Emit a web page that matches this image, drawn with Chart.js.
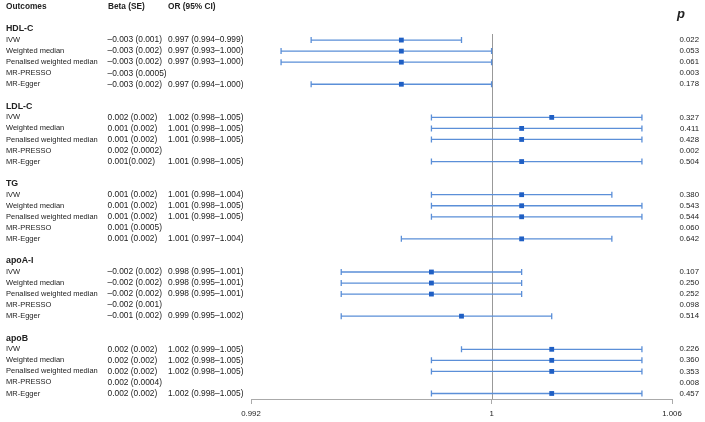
<!DOCTYPE html>
<html>
<head>
<meta charset="utf-8">
<script src="https://cdn.jsdelivr.net/npm/chart.js@4"></script>
<style>
  body { margin: 0; background: #fff; }
  #wrap { width: 705px; height: 422px; position: relative; }
</style>
</head>
<body>
<div id="wrap"><canvas id="forest"></canvas></div>
<script>
// outcomes and MR methods
const outcomes = ["HDL-C", "LDL-C", "TG", "apoA-I", "apoB"];
const methods = ["IVW", "Weighted median", "Penalised weighted median", "MR-PRESSO", "MR-Egger"];

// Beta (SE) as printed
const betaText = [
    ["\u20130.003 (0.001)", "\u20130.003 (0.002)", "\u20130.003 (0.002)", "\u20130.003 (0.0005)", "\u20130.003 (0.002)"],
    ["0.002 (0.002)", "0.001 (0.002)", "0.001 (0.002)", "0.002 (0.0002)", "0.001(0.002)"],
    ["0.001 (0.002)", "0.001 (0.002)", "0.001 (0.002)", "0.001 (0.0005)", "0.001 (0.002)"],
    ["\u20130.002 (0.002)", "\u20130.002 (0.002)", "\u20130.002 (0.002)", "\u20130.002 (0.001)", "\u20130.001 (0.002)"],
    ["0.002 (0.002)", "0.002 (0.002)", "0.002 (0.002)", "0.002 (0.0004)", "0.002 (0.002)"]
];

// odds ratios with 95% CI (MR-PRESSO has none)
const orEst = [
    [0.997, 0.997, 0.997, null, 0.997],
    [1.002, 1.001, 1.001, null, 1.001],
    [1.001, 1.001, 1.001, null, 1.001],
    [0.998, 0.998, 0.998, null, 0.999],
    [1.002, 1.002, 1.002, null, 1.002]
];
const orLow = [
    [0.994, 0.993, 0.993, null, 0.994],
    [0.998, 0.998, 0.998, null, 0.998],
    [0.998, 0.998, 0.998, null, 0.997],
    [0.995, 0.995, 0.995, null, 0.995],
    [0.999, 0.998, 0.998, null, 0.998]
];
const orHigh = [
    [0.999, 1.000, 1.000, null, 1.000],
    [1.005, 1.005, 1.005, null, 1.005],
    [1.004, 1.005, 1.005, null, 1.004],
    [1.001, 1.001, 1.001, null, 1.002],
    [1.005, 1.005, 1.005, null, 1.005]
];

const pValues = [
    [0.022, 0.053, 0.061, 0.003, 0.178],
    [0.327, 0.411, 0.428, 0.002, 0.504],
    [0.380, 0.543, 0.544, 0.060, 0.642],
    [0.107, 0.250, 0.252, 0.098, 0.514],
    [0.226, 0.360, 0.353, 0.008, 0.457]
];

const xTicks = [0.992, 1, 1.006];
const xTickLabels = ["0.992", "1", "1.006"];

const ROWS_PER_GROUP = 7;
const rowOf = (g, m) => g * ROWS_PER_GROUP + m;

const FONT = "'Liberation Sans', Arial, sans-serif";
const TEXT_COLOR = "#222";
const LINE_COLOR = "#5b8fd8";
const POINT_COLOR = "#1f5fc4";

const fmt = v => v.toFixed(3);

const points = [];
const whiskers = [];
outcomes.forEach((o, g) => {
    methods.forEach((m, i) => {
        if (orEst[g][i] === null) return;
        points.push({x: orEst[g][i], y: rowOf(g, i)});
        whiskers.push({lo: orLow[g][i], hi: orHigh[g][i], y: rowOf(g, i)});
    });
});

// reference line at OR = 1 and the CI whiskers
const whiskerPlugin = {
    id: "whiskers",
    beforeDatasetsDraw(chart) {
        const {ctx, chartArea, scales: {x, y}} = chart;
        ctx.save();
        ctx.strokeStyle = "#999";
        ctx.lineWidth = 1;
        const x1 = Math.round(x.getPixelForValue(1)) + 0.5;
        ctx.beginPath();
        ctx.moveTo(x1, chartArea.top);
        ctx.lineTo(x1, chartArea.bottom);
        ctx.stroke();

        ctx.strokeStyle = LINE_COLOR;
        ctx.lineWidth = 1.3;
        whiskers.forEach(w => {
            const py = y.getPixelForValue(w.y);
            const a = x.getPixelForValue(w.lo);
            const b = x.getPixelForValue(w.hi);
            ctx.beginPath();
            ctx.moveTo(a, py);
            ctx.lineTo(b, py);
            ctx.moveTo(a, py - 3);
            ctx.lineTo(a, py + 3);
            ctx.moveTo(b, py - 3);
            ctx.lineTo(b, py + 3);
            ctx.stroke();
        });
        ctx.restore();
    }
};

// text columns
const tablePlugin = {
    id: "table",
    afterDraw(chart) {
        const {ctx, scales: {y}} = chart;
        ctx.save();
        ctx.fillStyle = TEXT_COLOR;
        ctx.textBaseline = "middle";

        ctx.font = `bold 8.3px ${FONT}`;
        const hy = y.getPixelForValue(-3);
        ctx.fillText("Outcomes", 6, hy);
        ctx.fillText("Beta (SE)", 108, hy);
        ctx.fillText("OR (95% CI)", 168, hy);
        ctx.font = `italic bold 13px ${FONT}`;
        ctx.fillText("p", 677, 14);

        outcomes.forEach((o, g) => {
            ctx.textAlign = "left";
            ctx.font = `bold 8.8px ${FONT}`;
            ctx.fillText(o, 6, y.getPixelForValue(rowOf(g, -1)));
            methods.forEach((m, i) => {
                const py = y.getPixelForValue(rowOf(g, i));
                ctx.textAlign = "left";
                ctx.font = `7.5px ${FONT}`;
                ctx.fillText(m, 6, py);
                ctx.font = `8.4px ${FONT}`;
                ctx.fillText(betaText[g][i], 107.5, py);
                if (orEst[g][i] !== null) {
                    ctx.fillText(`${fmt(orEst[g][i])} (${fmt(orLow[g][i])}\u2013${fmt(orHigh[g][i])})`, 168, py);
                }
                ctx.textAlign = "right";
                ctx.font = `7.8px ${FONT}`;
                ctx.fillText(fmt(pValues[g][i]), 699, py);
            });
        });
        ctx.restore();
    }
};

const ctx = document.getElementById("forest").getContext("2d");
new Chart(ctx, {
    type: "scatter",
    data: {
        datasets: [{
            label: "OR",
            data: points,
            pointStyle: "rect",
            pointRadius: 3.4,
            pointHoverRadius: 3.4,
            backgroundColor: POINT_COLOR,
            borderColor: POINT_COLOR,
            borderWidth: 0
        }]
    },
    options: {
        responsive: true,
        maintainAspectRatio: false,
        animation: false,
        layout: { padding: { left: 251, right: 33, top: 34, bottom: 0 } },
        plugins: {
            legend: { display: false },
            tooltip: { enabled: false }
        },
        scales: {
            x: {
                type: "linear",
                min: 0.992,
                max: 1.006,
                afterBuildTicks: scale => { scale.ticks = xTicks.map(v => ({value: v})); },
                afterFit: scale => { scale.height = 23; },
                ticks: {
                    callback: v => xTickLabels[xTicks.indexOf(v)],
                    color: TEXT_COLOR,
                    padding: 5,
                    maxRotation: 0,
                    font: { family: FONT, size: 7.8 }
                },
                grid: { drawOnChartArea: false, drawTicks: true, tickLength: 5, color: "#aaa" },
                border: { color: "#aaa" }
            },
            y: {
                type: "linear",
                display: false,
                reverse: true,
                min: -0.55,
                max: 32.5
            }
        }
    },
    plugins: [whiskerPlugin, tablePlugin]
});
</script>
</body>
</html>
